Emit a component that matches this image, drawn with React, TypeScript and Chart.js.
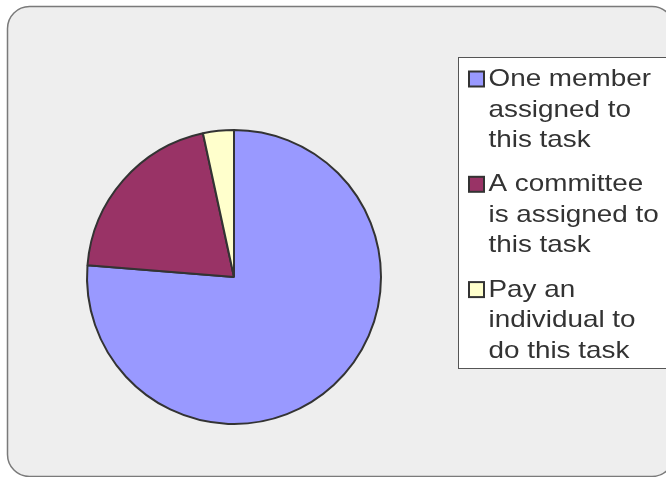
import React, { useEffect, useRef } from "react";
import { Chart, registerables } from "chart.js";

Chart.register(...registerables);

const categories: string[] = [
  "One member assigned to this task",
  "A committee is assigned to this task",
  "Pay an individual to do this task",
];
const legendLines: string[][] = [
  ["One member", "assigned to", "this task"],
  ["A committee", "is assigned to", "this task"],
  ["Pay an", "individual to", "do this task"],
];
const responses: number[] = [45, 12, 2];
const sliceColors: string[] = ["#9999FF", "#993366", "#FFFFCC"];

const framePlugin = {
  id: "frame",
  beforeDraw(chart: any) {
    const ctx = chart.ctx as CanvasRenderingContext2D;
    ctx.save();
    ctx.fillStyle = "#FFFFFF";
    ctx.fillRect(0, 0, chart.width, chart.height);
    const x0 = 7.5, y0 = 6.5, x1 = 674, y1 = 476.5, r = 22;
    ctx.beginPath();
    ctx.moveTo(x0 + r, y0);
    ctx.lineTo(x1 - r, y0);
    ctx.arcTo(x1, y0, x1, y0 + r, r);
    ctx.lineTo(x1, y1 - r);
    ctx.arcTo(x1, y1, x1 - r, y1, r);
    ctx.lineTo(x0 + r, y1);
    ctx.arcTo(x0, y1, x0, y1 - r, r);
    ctx.lineTo(x0, y0 + r);
    ctx.arcTo(x0, y0, x0 + r, y0, r);
    ctx.closePath();
    ctx.fillStyle = "#EEEEEE";
    ctx.fill();
    ctx.strokeStyle = "#7A7A7A";
    ctx.lineWidth = 1.5;
    ctx.stroke();
    ctx.restore();
  },
};

const legendPlugin = {
  id: "boxLegend",
  afterDraw(chart: any) {
    const ctx = chart.ctx as CanvasRenderingContext2D;
    const colors = chart.data.datasets[0].backgroundColor as string[];
    ctx.save();
    // legend box
    ctx.fillStyle = "#FFFFFF";
    ctx.fillRect(458.5, 57.5, 220, 311);
    ctx.strokeStyle = "#555555";
    ctx.lineWidth = 1;
    ctx.strokeRect(458.5, 57.5, 220, 311);

    const itemTop = 86;
    const itemPitch = 105.3;
    const linePitch = 30.5;
    ctx.font = "24px 'Liberation Sans', Arial, sans-serif";
    ctx.textBaseline = "alphabetic";
    ctx.textAlign = "left";
    legendLines.forEach((lines, i) => {
      const base = itemTop + i * itemPitch;
      // swatch
      ctx.fillStyle = colors[i];
      ctx.fillRect(469, base - 14.5, 15, 15);
      ctx.strokeStyle = "#333333";
      ctx.lineWidth = 2;
      ctx.strokeRect(469, base - 14.5, 15, 15);
      ctx.fillStyle = "#333333";
      lines.forEach((ln, j) => {
        ctx.save();
        ctx.translate(488.5, base + j * linePitch);
        ctx.scale(1.16, 1);
        ctx.fillText(ln, 0, 0);
        ctx.restore();
      });
    });
    ctx.restore();
  },
};

export default function App() {
  const ref = useRef<HTMLCanvasElement | null>(null);
  useEffect(() => {
    if (!ref.current) return;
    const chart = new Chart(ref.current, {
      type: "pie",
      data: {
        labels: categories,
        datasets: [
          {
            data: responses,
            backgroundColor: sliceColors,
            borderColor: "#333333",
            borderWidth: 2,
            hoverOffset: 0,
          },
        ],
      },
      options: {
        responsive: false,
        animation: false,
        layout: { padding: { left: 86, top: 129, right: 284, bottom: 52 } },
        plugins: {
          legend: { display: false },
          tooltip: { enabled: false },
        },
      },
      plugins: [framePlugin, legendPlugin],
    });
    return () => chart.destroy();
  }, []);
  return (
    <div style={{ position: "fixed", left: 0, top: 0, width: 666, height: 477 }}>
      <canvas ref={ref} width={666} height={477} style={{ display: "block" }} />
    </div>
  );
}
